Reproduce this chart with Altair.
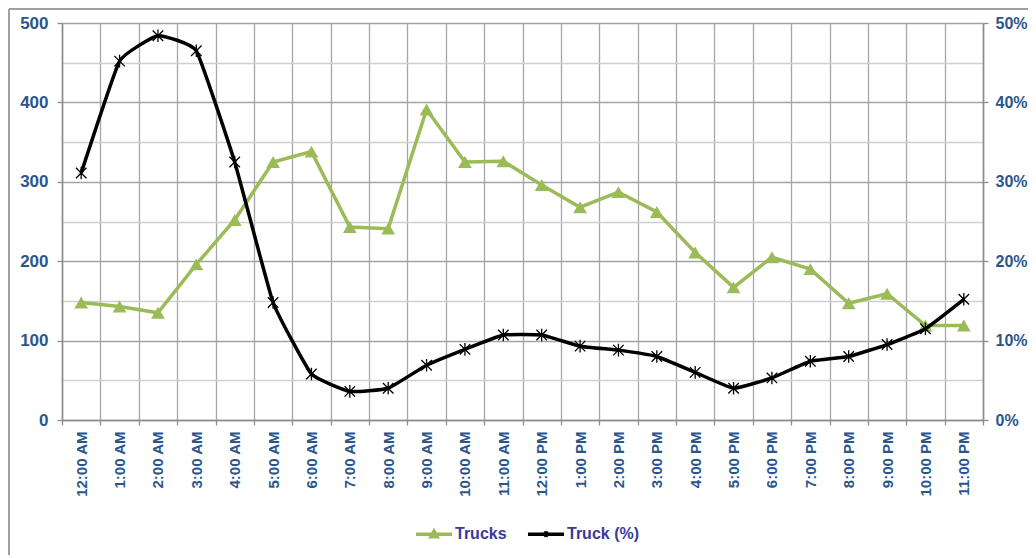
import altair as alt
import pandas as pd

hours = ["12:00 AM", "1:00 AM", "2:00 AM", "3:00 AM", "4:00 AM", "5:00 AM",
         "6:00 AM", "7:00 AM", "8:00 AM", "9:00 AM", "10:00 AM", "11:00 AM",
         "12:00 PM", "1:00 PM", "2:00 PM", "3:00 PM", "4:00 PM", "5:00 PM",
         "6:00 PM", "7:00 PM", "8:00 PM", "9:00 PM", "10:00 PM", "11:00 PM"]
trucks = [148, 143, 135, 196, 252, 325, 338, 243, 241, 391, 325, 326,
          296, 268, 287, 262, 211, 167, 205, 190, 147, 159, 119, 119]
truck_pct = [0.311, 0.452, 0.484, 0.465, 0.325, 0.148, 0.058, 0.036, 0.040, 0.069, 0.089, 0.107,
             0.107, 0.093, 0.088, 0.080, 0.060, 0.040, 0.053, 0.074, 0.080, 0.095, 0.115, 0.152]
series_names = ["Trucks", "Truck (%)"]
left_ticks = [0, 50, 100, 150, 200, 250, 300, 350, 400, 450, 500]
right_ticks = [0, 0.1, 0.2, 0.3, 0.4, 0.5]

GREEN = "#9bbb59"
BLACK = "#000000"
LBL = "#2b568c"
LEG = "#3a3a9c"
FONT = "Liberation Sans"
AX = "#8c8c8c"

df_t = pd.DataFrame({"hour": hours, "value": trucks, "series": series_names[0]})
df_p = pd.DataFrame({"hour": hours, "value": truck_pct, "series": series_names[1]})

x_enc = alt.X(
    "hour:N", sort=hours,
    scale=alt.Scale(type="band", paddingInner=0, paddingOuter=0),
    bandPosition=0.5,
    axis=alt.Axis(title=None, labelAngle=270, tickBand="extent", grid=True,
                  gridColor="#a6a6a6", gridWidth=1.3, domainColor=AX, domainWidth=1.6,
                  tickColor=AX, tickSize=5, tickWidth=1.3, labelFont=FONT,
                  labelFontSize=15, labelFontWeight="bold", labelColor=LBL,
                  labelPadding=6),
)

y_left = alt.Y(
    "value:Q", scale=alt.Scale(domain=[0, 500], nice=False),
    axis=alt.Axis(title=None, orient="left", values=left_ticks,
                  labelExpr="datum.value % 100 === 0 ? datum.label : ''",
                  grid=True,
                  gridColor={"condition": {"test": "datum.value % 100 === 0", "value": "#a3a3a3"}, "value": "#cfcfcf"},
                  gridWidth=1.3,
                  tickOpacity={"condition": {"test": "datum.value % 100 === 0", "value": 1}, "value": 0},
                  domainColor=AX, domainWidth=1.6, tickColor=AX, tickSize=5, tickWidth=1.3,
                  labelFont=FONT, labelFontSize=17, labelFontWeight="bold",
                  labelColor=LBL, labelPadding=9),
)

y_right = alt.Y(
    "value:Q", scale=alt.Scale(domain=[0, 0.5], nice=False),
    axis=alt.Axis(title=None, orient="right", values=right_ticks, format=".0%",
                  grid=False, domainColor=AX, domainWidth=1.6, tickColor=AX,
                  tickSize=5, tickWidth=1.3, labelFont=FONT, labelFontSize=16,
                  labelFontWeight="bold", labelColor=LBL, labelPadding=7),
)

TRI_LEG = "M-1,0L1,0M-0.17,0.15L0,-0.16L0.17,0.15Z"
AST_LEG = "M-1,0L1,0M-0.12,-0.12L0.12,0.12M-0.12,0.12L0.12,-0.12M0,-0.15L0,0.15"
ASTER = "M-1,-1L1,1M-1,1L1,-1M0,-1.2L0,1.2"

color_enc = alt.Color(
    "series:N",
    scale=alt.Scale(domain=series_names, range=[GREEN, BLACK]),
    legend=alt.Legend(
        title=None, orient="none", legendX=352, legendY=491, direction="horizontal",
        symbolSize=1300, symbolStrokeWidth=3.5, columnPadding=13, labelOffset=1,
        labelFont=FONT, labelFontSize=16, labelFontWeight="bold", labelColor=LEG,
        symbolType={"expr": "datum.value === 'Trucks' ? '" + TRI_LEG + "' : '" + AST_LEG + "'"},
        symbolFillColor={"expr": "datum.value === 'Trucks' ? '" + GREEN + "' : 'transparent'"},
    ),
)

green_line = alt.Chart(df_t).mark_line(strokeWidth=3.5).encode(x=x_enc, y=y_left, color=color_enc)
green_pts = alt.Chart(df_t).mark_point(shape="triangle-up", filled=True, size=190,
                                       color=GREEN, opacity=1).encode(x=x_enc, y=y_left)
black_line = alt.Chart(df_p).mark_line(strokeWidth=3.5, interpolate="cardinal", tension=0.65).encode(
    x=x_enc, y=y_right, color=color_enc)
black_pts = alt.Chart(df_p).mark_point(shape=ASTER, filled=False, size=110, color=BLACK,
                                       strokeWidth=1.3, opacity=1).encode(x=x_enc, y=y_right)

frame_df = pd.DataFrame({"k": [0]})
frame_top = alt.Chart(frame_df).mark_rule(color="#a0a0a0", strokeWidth=2).encode(
    x=alt.value(-53), x2=alt.value(1000), y=alt.value(-14))
frame_left = alt.Chart(frame_df).mark_rule(color="#a0a0a0", strokeWidth=2).encode(
    x=alt.value(-53), y=alt.value(-14), y2=alt.value(560))

left = alt.layer(green_line, green_pts)
right = alt.layer(black_line, black_pts)

chart = alt.layer(left, right, frame_top, frame_left).resolve_scale(y="independent").properties(
    width=921, height=397,
    autosize=alt.AutoSizeParams(type="none"),
    padding={"left": 54, "top": 15, "right": 45, "bottom": 135},
).configure_view(stroke="transparent").configure(font=FONT)

chart.save("out.html", embed_options={"renderer": "svg", "actions": False})
